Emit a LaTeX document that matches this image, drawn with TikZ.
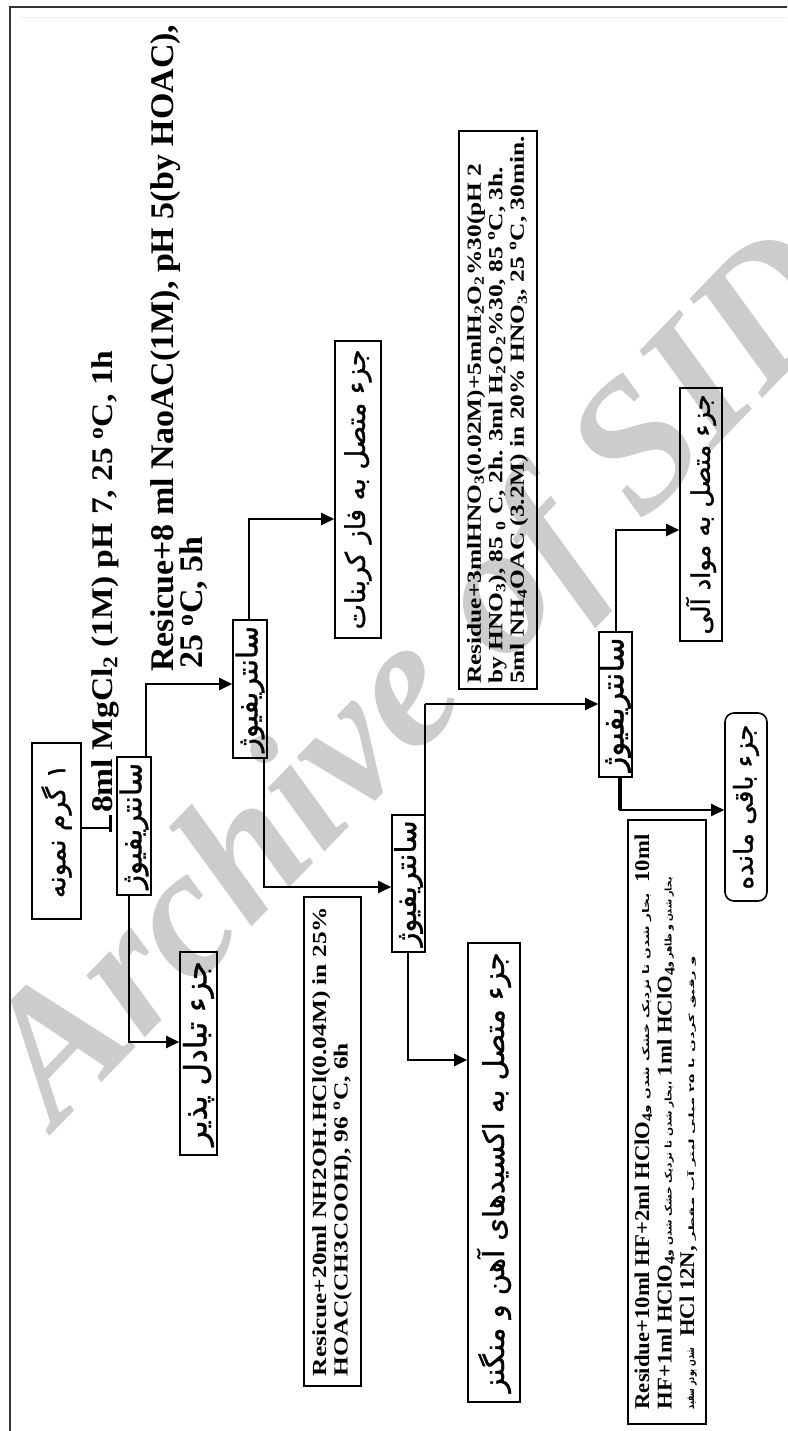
\documentclass[tikz,border=0pt]{standalone}
\usepackage{fontspec}
\usepackage{graphicx}
\setmainfont{Liberation Serif}
\newfontfamily\fa[Script=Arabic, FakeBold=1.2]{DejaVu Sans}
\newfontfamily\fas[Script=Arabic]{DejaVu Sans}
\usetikzlibrary{arrows.meta}
\TeXXeTstate=1
\newcommand\plab[2]{\resizebox{#1pt}{!}{\fa #2}}
\newcommand\sfa[2]{\resizebox{#1pt}{7pt}{\fas #2}}
\newcommand\ltn[1]{\scalebox{1.08}[1]{#1}}
\begin{document}
\begin{tikzpicture}[x=1pt,y=-1pt,
 box/.style={draw, line width=1.6pt, rotate=90, inner sep=0pt},
 conn/.style={line width=2.2pt},
 arr/.style={conn, -{Triangle[length=13pt,width=12pt]}},
 lbl/.style={rotate=90, inner sep=0pt, anchor=base west},
 wmark/.style={rotate=46, text=black!20, inner sep=0pt},
]
\useasboundingbox (0,0) rectangle (787,1431);
% watermark
\node[wmark, font=\fontsize{185}{185}\selectfont\bfseries\itshape] (wmk) at (424,684) {Archive of SID};
% frame
\draw[line width=2.5pt, black!80] (10,1431) -- (10,7) -- (787,7);
\draw[line width=0.8pt, black!7] (20,17) -- (787,17);

% boxes
\node[box, minimum width=176pt, minimum height=49pt] (sample) at (56.5,831) {\plab{134}{\beginR ۱ گرم نمونه\endR}};
\node[box, minimum width=138pt, minimum height=34pt] (cf1) at (134,826) {\plab{126}{\beginR سانتریفیوژ\endR}};
\node[box, minimum width=138pt, minimum height=34pt] (cf2) at (250,689) {\plab{126}{\beginR سانتریفیوژ\endR}};
\node[box, minimum width=137pt, minimum height=33pt] (cf3) at (408.5,883.5) {\plab{126}{\beginR سانتریفیوژ\endR}};
\node[box, minimum width=145pt, minimum height=33pt] (cf4) at (615.5,704.5) {\plab{134}{\beginR سانتریفیوژ\endR}};
\node[box, minimum width=203pt, minimum height=37pt] (exch) at (198.5,1053.5) {\plab{185}{\beginR جزء تبادل پذیر\endR}};
\node[box, minimum width=297pt, minimum height=46pt] (carb) at (358,489.5) {\plab{280}{\beginR جزء متصل به فاز کربنات\endR}};
\node[box, minimum width=459pt, minimum height=52pt] (oxid) at (494,1172.5) {\plab{440}{\beginR جزء متصل به اکسیدهای آهن و منگنز\endR}};
\node[box, minimum width=253pt, minimum height=42pt] (org) at (701,514.5) {\plab{240}{\beginR جزء متصل به مواد آلی\endR}};
\node[box, rounded corners=9pt, minimum width=188pt, minimum height=42pt] (resid) at (746,807) {\plab{165}{\beginR جزء باقی مانده\endR}};

% text boxes
\node[box, minimum width=558pt, minimum height=78pt] (r3) at (498,410) {\scalebox{1.27}[1]{\fontsize{20}{21.5}\selectfont\bfseries\begin{tabular}{@{}l@{}}
Residue+3mlHNO\textsubscript{3}(0.02M)+5mlH\textsubscript{2}O\textsubscript{2}\%30(pH 2\\
by HNO\textsubscript{3}), 85 \textsubscript{0} C, 2h. 3ml H\textsubscript{2}O\textsubscript{2}\%30, 85 \textsuperscript{o}C, 3h.\\
5ml NH\textsubscript{4}OAC (3.2M) in 20\% HNO\textsubscript{3}, 25 \textsuperscript{o}C, 30min.
\end{tabular}}};
\node[box, minimum width=489pt, minimum height=57pt] (nh) at (332.5,1141.5) {\scalebox{1.27}[1]{\fontsize{20}{21.5}\selectfont\bfseries\begin{tabular}{@{}l@{}}
Resicue+20ml NH2OH.HCl(0.04M) in 25\%\\
HOAC(CH3COOH), 96 \textsuperscript{o}C, 6h
\end{tabular}}};
\node[box, minimum width=604pt, minimum height=78pt] (hf) at (667,1122) {\fontsize{21}{22.5}\selectfont\bfseries\begin{tabular}{@{}l@{}}
\ltn{Residue+10ml HF+2ml HClO\textsubscript{4}}\sfa{220}{\beginR بخار شدن تا نزدیک خشک شدن و\endR}\ \ \ltn{10ml}\\
\ltn{HF+1ml HClO\textsubscript{4}}\sfa{175}{\beginR ،بخار شدن تا نزدیک خشک شدن و\endR} \ltn{1ml HClO\textsubscript{4}}\sfa{90}{\beginR بخار شدن و ظاهر و\endR}\\
\sfa{62}{\beginR شدن پودر سفید\endR}\ \ \ltn{HCl 12N,} \sfa{285}{\beginR و رقیق کردن با ۲۵ میلی لیتر آب مقطر\endR}
\end{tabular}};

% free labels
\node[lbl, font=\fontsize{30}{30}\selectfont\bfseries] (lmg) at (112,813) {\scalebox{1.12}[1]{8ml MgCl\textsubscript{2} (1M) pH 7, 25 \textsuperscript{o}C, 1h}};
\node[lbl, font=\fontsize{33}{33}\selectfont\bfseries] (lna1) at (173,672) {\scalebox{1.03}[1]{Resicue+8 ml NaoAC(1M), pH 5(by HOAC),}};
\node[lbl, font=\fontsize{33}{33}\selectfont\bfseries] (lna2) at (202,669) {\scalebox{1.03}[1]{25 \textsuperscript{o}C, 5h}};

% connectors
\coordinate (stub) at (110,828);
\draw[conn] (sample.south |- stub) -- (stub);
\draw[line width=3pt] (110,815) -- (110,832);
\draw[arr] (129,0 |- cf1.west) |- (exch.north |- 0,1042);
\draw[arr] (146,0 |- cf1.east) |- (cf2.north |- 0,684);
\draw[arr] (249,0 |- cf2.east) |- (carb.north |- 0,519);
\draw[arr] (264,0 |- cf2.west) |- (cf3.north |- 0,887);
\coordinate (k5) at (425,704);
\draw[line width=1.2pt] (cf3.east -| k5) -- (k5);
\draw[arr] (k5) -- (cf4.north |- k5);
\draw[arr] (408,0 |- cf3.west) |- (oxid.north |- 0,1060);
\draw[arr] (616,0 |- cf4.east) |- (org.north |- 0,530);
\draw[line width=3.5pt] (620,0 |- cf4.west) -- (620,810);
\draw[arr] (620,0 |- cf4.west) |- (resid.north |- 0,810);
\end{tikzpicture}
\end{document}
